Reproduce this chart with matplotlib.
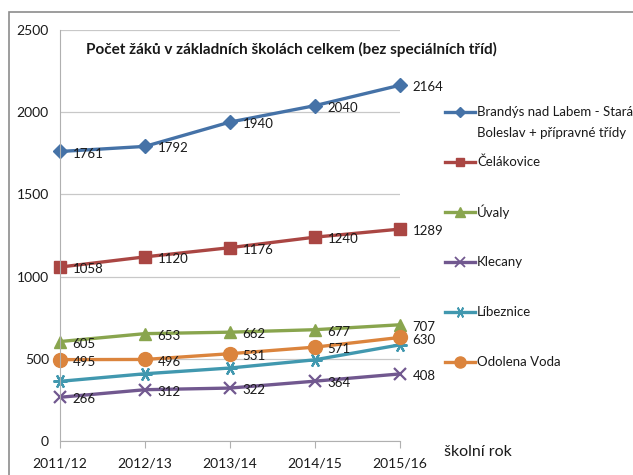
import matplotlib
matplotlib.use("Agg")
import matplotlib.pyplot as plt
from matplotlib.lines import Line2D
from matplotlib.patches import Rectangle

plt.rcParams['font.family'] = ['Lato', 'DejaVu Sans']

years = ["2011/12", "2012/13", "2013/14", "2014/15", "2015/16"]
series_names = [
    "Brandýs nad Labem - Stará\nBoleslav + přípravné třídy",
    "Čelákovice",
    "Úvaly",
    "Klecany",
    "Líbeznice",
    "Odolena Voda",
]
brandys = [1761, 1792, 1940, 2040, 2164]
celakovice = [1058, 1120, 1176, 1240, 1289]
uvaly = [605, 653, 662, 677, 707]
klecany = [266, 312, 322, 364, 408]
libeznice = [363, 409, 444, 494, 585]
odolena = [495, 496, 531, 571, 630]
values = [brandys, celakovice, uvaly, klecany, libeznice, odolena]
show_labels = [True, True, True, True, False, True]

colors = ["#4572A7", "#AA4643", "#89A54E", "#71588F", "#4198AF", "#DB843D"]
markers = ["D", "s", "^", "x", (6, 2, 90), "o"]
msizes = [7, 8, 9, 9, 10, 10]
line_markers = [False, False, False, True, True, False]

W, H = 633, 475
fig = plt.figure(figsize=(W / 100, H / 100), dpi=100)

# outer chart frame
fig.add_artist(Rectangle((9 / W, -0.05), 1.2, 1 - 12 / H + 0.05, transform=fig.transFigure,
                         fill=False, edgecolor="#8c8c8c", linewidth=1.2))

ax = fig.add_axes([60 / W, 1 - 441 / H, 340 / W, (441 - 30) / H])
x = list(range(len(years)))
for vals, c, m, ms, lab, lm in zip(values, colors, markers, msizes, show_labels, line_markers):
    mew = 1.6 if lm else 1
    ax.plot(x, vals, color=c, linewidth=2.4, marker=m, markersize=ms,
            markeredgewidth=mew, markeredgecolor=c, solid_capstyle="round", clip_on=False)
    if lab:
        for xi, v in zip(x, vals):
            ax.annotate(str(v), (xi, v), xytext=(9, -1.5), textcoords="offset points",
                        ha="left", va="center", fontsize=9.5, color="#1a1a1a")

ax.set_xlim(0, 4)
ax.set_ylim(0, 2500)
ax.set_yticks([0, 500, 1000, 1500, 2000, 2500])
ax.set_xticks(x)
ax.set_xticklabels(years)
ax.yaxis.grid(True, color="#c8c8c8", linewidth=0.9)
ax.set_axisbelow(True)
for s in ["top", "right"]:
    ax.spines[s].set_visible(False)
ax.spines["left"].set_color("#b0b0b0")
ax.spines["bottom"].set_color("#b0b0b0")
ax.tick_params(axis="y", length=0, pad=8, labelsize=10, colors="#1a1a1a")
ax.tick_params(axis="x", length=5, color="#b0b0b0", pad=7, labelsize=10, labelcolor="#1a1a1a")

fig.text(291 / W, 1 - 49 / H, "Počet žáků v základních školách celkem (bez speciálních tříd)",
         ha="center", va="center", fontsize=11, fontweight="bold", color="#1a1a1a")
fig.text(444 / W, 1 - 452 / H, "školní rok", ha="left", va="center", fontsize=11.5, color="#1a1a1a")

# legend
leg_y = [112, 162, 212, 262, 312, 362]
for name, c, m, ms, ly, lm in zip(series_names, colors, markers, msizes, leg_y, line_markers):
    yf = 1 - ly / H
    mew = 1.3 if lm else 1
    fig.add_artist(Line2D([445 / W, 475 / W], [yf, yf], transform=fig.transFigure,
                          color=c, linewidth=2.4))
    fig.add_artist(Line2D([460 / W], [yf], transform=fig.transFigure, color=c,
                          marker=m, markersize=ms * 0.8, markeredgewidth=mew, markeredgecolor=c))
    if "\n" in name:
        l1, l2 = name.split("\n")
        fig.text(477 / W, yf, l1, ha="left", va="center", fontsize=9.5, color="#1a1a1a")
        fig.text(477 / W, 1 - (ly + 21) / H, l2, ha="left", va="center", fontsize=9.5, color="#1a1a1a")
    else:
        fig.text(477 / W, yf, name, ha="left", va="center", fontsize=9.5, color="#1a1a1a")

fig.savefig("out.png", dpi=100)
